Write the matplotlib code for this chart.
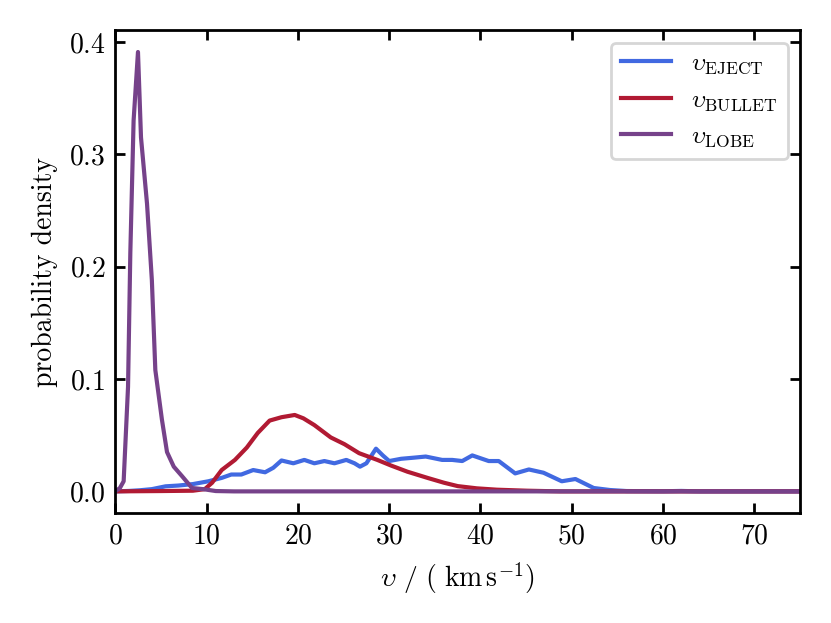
import numpy as np
import matplotlib
matplotlib.use("Agg")
import matplotlib.pyplot as plt

plt.rcParams['font.family'] = 'serif'
plt.rcParams['font.serif'] = ['cmr10']
plt.rcParams['mathtext.fontset'] = 'cm'
plt.rcParams['axes.formatter.use_mathtext'] = True
plt.rcParams['font.size'] = 10

# velocity distributions (km/s, probability density)
v_eject = [0, 1.5, 2.7, 4.0, 5.5, 6.9, 8.5, 10.2, 11.65, 12.7, 13.8, 15.1, 16.4, 17.3,
           18.2, 19.5, 20.7, 21.8, 22.9, 24.0, 25.3, 26.2, 26.8, 27.5, 28.55, 29.3,
           30.0, 31.3, 32.7, 34.0, 35.8, 36.9, 38.0, 39.1, 40.9, 42.0, 43.8, 45.3,
           46.9, 48.9, 50.4, 52.4, 54.2, 56.0, 60.0, 62.0, 64.0, 75.0]
p_eject = [0.0, 0.0004, 0.001, 0.002, 0.0045, 0.0052, 0.0065, 0.009, 0.012, 0.015,
           0.015, 0.019, 0.017, 0.021, 0.0275, 0.025, 0.028, 0.025, 0.027, 0.025,
           0.028, 0.025, 0.022, 0.025, 0.038, 0.032, 0.027, 0.029, 0.030, 0.031,
           0.028, 0.028, 0.027, 0.032, 0.027, 0.027, 0.016, 0.0195, 0.0166, 0.009,
           0.011, 0.003, 0.0012, 0.0003, 0.0001, 0.0004, 0.0, 0.0]

v_bullet = [0, 5.0, 8.5, 9.8, 10.6, 11.65, 13.1, 14.4, 15.6, 16.9, 18.2, 19.65, 20.6,
            21.8, 23.6, 25.1, 26.7, 28.7, 30.2, 32.0, 34.2, 36.0, 37.5, 39.6, 41.8,
            45.1, 48.7, 75.0]
p_bullet = [0.0, 0.0003, 0.0006, 0.002, 0.0077, 0.019, 0.028, 0.039, 0.052, 0.063,
            0.066, 0.068, 0.065, 0.059, 0.048, 0.042, 0.034, 0.028, 0.023, 0.0175,
            0.012, 0.0077, 0.0047, 0.0027, 0.0015, 0.0006, 0.0, 0.0]

v_lobe = [0, 0.5, 0.91, 1.39, 1.64, 2.0, 2.48, 2.81, 3.47, 4.0, 4.38, 5.1, 5.66, 6.4,
          7.3, 8.4, 9.6, 11.0, 13.0, 75.0]
p_lobe = [0.0, 0.003, 0.009, 0.093, 0.212, 0.33, 0.391, 0.315, 0.256, 0.188, 0.108,
          0.064, 0.035, 0.022, 0.0136, 0.003, 0.002, 0.0003, 0.0, 0.0]

fig = plt.figure(figsize=(4.155, 3.115), dpi=200)
ax = fig.add_axes([0.1388, 0.176, 0.8239, 0.7758])

ax.plot(v_eject, p_eject, color='#4169E1', lw=1.5, label=r'$\upsilon_{\mathrm{EJECT}}$')
ax.plot(v_bullet, p_bullet, color='#B11A33', lw=1.5, label=r'$\upsilon_{\mathrm{BULLET}}$')
ax.plot(v_lobe, p_lobe, color='#76428A', lw=1.5, label=r'$\upsilon_{\mathrm{LOBE}}$')

ax.set_xlim(0, 75)
ax.set_xticks([0, 10, 20, 30, 40, 50, 60, 70])
ax.set_yticks([0.0, 0.1, 0.2, 0.3, 0.4])
ax.set_xlabel(r'$\upsilon\ /\ (\ \mathrm{km\,s^{-1}})$')
ax.set_ylabel('probability density')
ax.tick_params(direction='in', top=True, right=True, length=3.5, width=1)
for s in ax.spines.values():
    s.set_linewidth(1)
ax.legend(loc='upper right', fontsize=9)

fig.savefig('out.png', dpi=200)
